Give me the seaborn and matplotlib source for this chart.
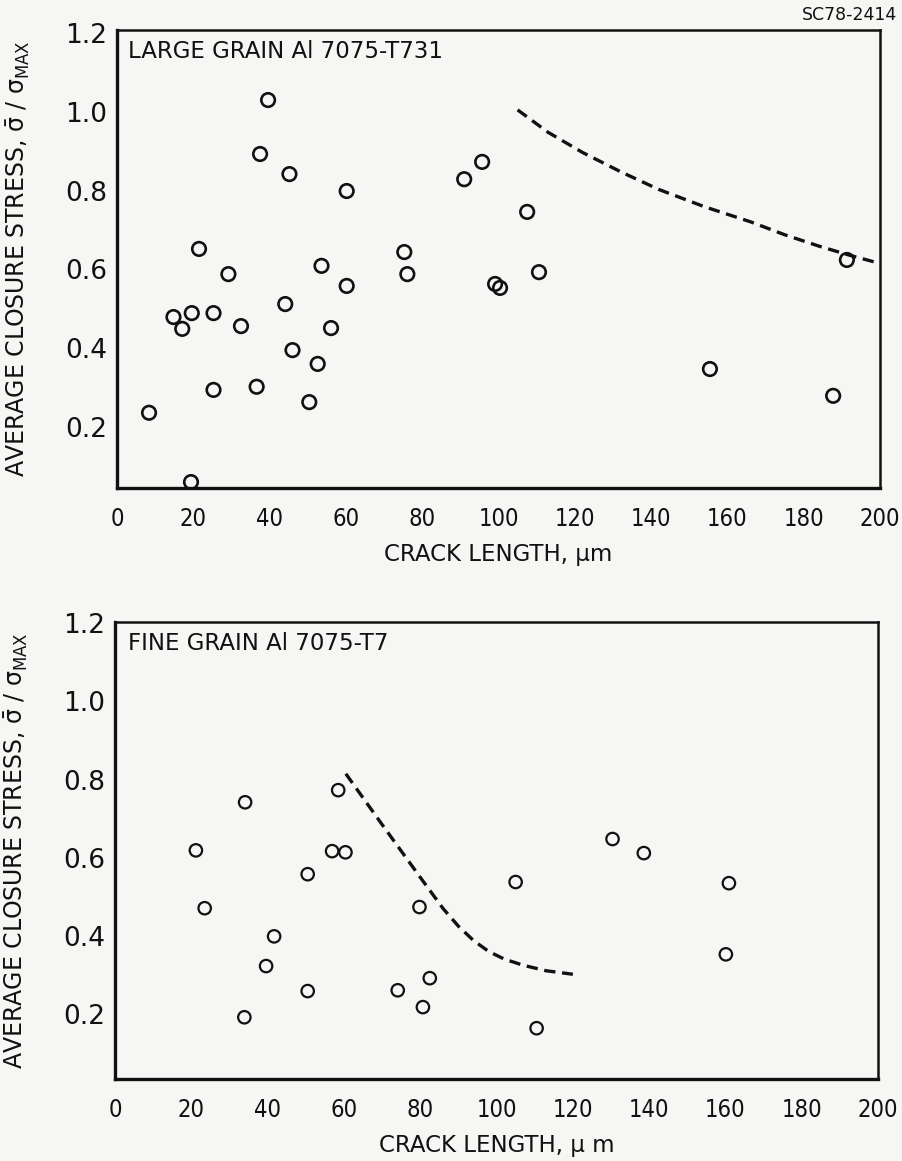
import matplotlib
matplotlib.use("Agg")
import matplotlib.pyplot as plt
import seaborn as sns
import pandas as pd

# Large grain Al 7075-T731: crack length (um) vs normalised closure stress
large_len = [39.6, 37.5, 45.2, 60.2, 21.5, 29.2, 53.6, 60.2, 75.3, 76.1,
             14.8, 17.1, 19.6, 25.3, 32.5, 44.1, 56.1, 46.0, 52.6, 25.3,
             36.6, 50.4, 8.4, 19.4, 91.0, 95.7, 107.5, 110.6, 99.1, 100.4,
             191.3, 155.4, 187.7]
large_stress = [1.03, 0.893, 0.842, 0.799, 0.652, 0.588, 0.609, 0.558, 0.644, 0.588,
                0.479, 0.449, 0.489, 0.489, 0.456, 0.512, 0.451, 0.395, 0.360, 0.294,
                0.302, 0.263, 0.236, 0.060, 0.829, 0.873, 0.746, 0.593, 0.563, 0.553,
                0.624, 0.347, 0.279]
large_curve_len = [105, 113, 122, 132, 142, 154, 166, 175, 184, 192, 200]
large_curve_stress = [1.005, 0.948, 0.897, 0.848, 0.803, 0.759, 0.721, 0.688, 0.659, 0.636, 0.615]

# Fine grain Al 7075-T7
fine_len = [34.1, 58.5, 21.2, 56.9, 60.4, 50.5, 23.5, 79.8, 41.7, 39.6,
            50.5, 74.1, 82.5, 80.7, 33.9, 130.4, 138.6, 105.0, 160.9, 160.1, 110.5]
fine_stress = [0.742, 0.773, 0.619, 0.617, 0.614, 0.558, 0.471, 0.474, 0.399, 0.323,
               0.259, 0.261, 0.292, 0.218, 0.192, 0.648, 0.612, 0.538, 0.535, 0.353, 0.164]
fine_curve_len = [60.5, 70, 80, 86, 90, 94, 98, 102, 107, 113, 120]
fine_curve_stress = [0.815, 0.685, 0.55, 0.47, 0.425, 0.388, 0.36, 0.341, 0.325, 0.311, 0.302]

x_ticks = [0, 20, 40, 60, 80, 100, 120, 140, 160, 180, 200]
y_ticks = [0.2, 0.4, 0.6, 0.8, 1.0, 1.2]
y_tick_labels = ["0.2", "0.4", "0.6", "0.8", "1.0", "1.2"]

sns.set_theme(style="white")
plt.rcParams["font.family"] = ["DejaVu Sans"]
plt.rcParams["mathtext.fontset"] = "dejavusans"

paper = "#f6f6f4"
ink = "#111111"

fig = plt.figure(figsize=(9.02, 11.61), dpi=100, facecolor=paper)
ax_top = fig.add_axes([0.1297, 0.5797, 0.846, 0.3945])
ax_bot = fig.add_axes([0.1275, 0.0706, 0.846, 0.3936])

ylabel = "AVERAGE CLOSURE STRESS, $\\bar{\\mathrm{\\sigma}}$ / $\\mathrm{\\sigma}_{\\mathrm{MAX}}$"

panels = [
    (ax_top, large_len, large_stress, large_curve_len, large_curve_stress,
     "LARGE GRAIN Al 7075-T731", "CRACK LENGTH, µm", (0.045, 1.208), 0.0144, 95, 1.9),
    (ax_bot, fine_len, fine_stress, fine_curve_len, fine_curve_stress,
     "FINE GRAIN Al 7075-T7", "CRACK LENGTH, µ m", (0.034, 1.203), 0.017, 80, 1.6),
]

for ax, xs, ys, cx, cy, title, xlabel, ylim, tx, msize, mlw in panels:
    ax.set_facecolor(paper)
    pts = pd.DataFrame({"length": xs, "stress": ys})
    curve = pd.DataFrame({"length": cx, "stress": cy})
    sns.lineplot(data=curve, x="length", y="stress", ax=ax, color=ink,
                 linewidth=2.4, sort=False, zorder=2)
    ax.lines[-1].set_dashes((3.4, 2.0))
    sns.scatterplot(data=pts, x="length", y="stress", ax=ax, s=msize,
                    facecolor="none", edgecolor=ink, linewidth=mlw, zorder=3)
    ax.set_xlim(0, 200)
    ax.set_ylim(*ylim)
    ax.set_xticks(x_ticks)
    ax.set_xticklabels([str(v) for v in x_ticks], fontsize=17,
                       fontstretch="condensed")
    ax.set_yticks(y_ticks)
    ax.set_yticklabels(y_tick_labels, fontsize=19)
    ax.tick_params(axis="both", length=0, colors=ink)
    ax.tick_params(axis="x", pad=14)
    ax.tick_params(axis="y", pad=7)
    for side in ["left", "bottom"]:
        ax.spines[side].set_linewidth(2.4)
        ax.spines[side].set_color(ink)
    for side in ["top", "right"]:
        ax.spines[side].set_linewidth(1.8)
        ax.spines[side].set_color(ink)
    ax.set_xlabel(xlabel, fontsize=16.5, color=ink, labelpad=8)
    ax.set_ylabel(ylabel, fontsize=17, color=ink)
    ax.yaxis.set_label_coords(-0.112, 0.5)
    ax.text(tx, 0.952, title, transform=ax.transAxes, fontsize=16.5,
            color=ink, ha="left", va="center")

fig.text(0.995, 0.987, "SC78-2414", fontsize=12.5, color=ink, ha="right", va="center")

fig.savefig("out.png", dpi=100, facecolor=paper)
